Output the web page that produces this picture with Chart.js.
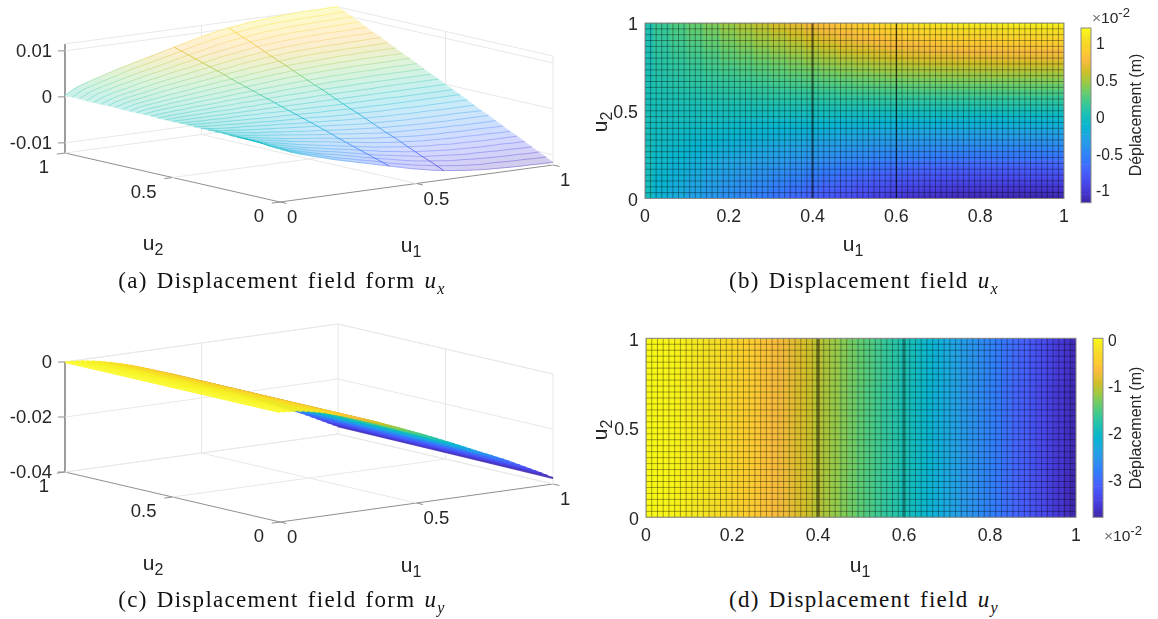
<!DOCTYPE html>
<html>
<head>
<meta charset="utf-8">
<script src="https://cdn.jsdelivr.net/npm/chart.js@4/dist/chart.umd.min.js"></script>
<style>
  html, body { margin: 0; background: #fff; }
  #page { position: relative; width: 1158px; height: 619px; overflow: hidden; }
  canvas { position: absolute; }
  .cap { position: absolute; font: 23px "Liberation Serif", serif; color: #111; letter-spacing: 1.3px; word-spacing: 2px; transform: translate(-50%, -50%); white-space: nowrap; }
  .cap sub { font-size: 16px; line-height: 0; }
  .lab { position: absolute; font: 21px "Liberation Sans", Arial, sans-serif; color: #262626; transform: translate(-50%, -50%); white-space: nowrap; }
  .lab sub { font-size: 16px; line-height: 0; }
  .rot { transform: translate(-50%, -50%) rotate(-90deg); }
  .cbt { position: absolute; font: 16px "Liberation Sans", Arial, sans-serif; color: #262626; white-space: nowrap; transform: translate(-50%, -50%) rotate(-90deg); }
  .exp { position: absolute; font: 15.5px "Liberation Sans", Arial, sans-serif; color: #262626; white-space: nowrap; }
  .exp sup { font-size: 13px; line-height: 0; }
  .exp span { color: #777; }
</style>
</head>
<body>
<div id="page">
  <canvas id="surfUx" width="580" height="260" style="left:0;top:0"></canvas>
  <canvas id="heatUx" width="480" height="240" style="left:600px;top:0"></canvas>
  <canvas id="barUx" width="70" height="240" style="left:1079px;top:0"></canvas>
  <canvas id="surfUy" width="580" height="260" style="left:0;top:320px"></canvas>
  <canvas id="heatUy" width="490" height="240" style="left:600px;top:320px"></canvas>
  <canvas id="barUy" width="50" height="240" style="left:1091px;top:320px"></canvas>

  <div class="lab" style="left:153px;top:243px">u<sub>2</sub></div>
  <div class="lab" style="left:411px;top:245px">u<sub>1</sub></div>
  <div class="lab" style="left:853px;top:244px">u<sub>1</sub></div>
  <div class="lab rot" style="left:600px;top:122px">u<sub>2</sub></div>
  <div class="lab" style="left:153px;top:563px">u<sub>2</sub></div>
  <div class="lab" style="left:411px;top:565px">u<sub>1</sub></div>
  <div class="lab" style="left:860px;top:565px">u<sub>1</sub></div>
  <div class="lab rot" style="left:600px;top:430px">u<sub>2</sub></div>

  <div class="cbt" style="left:1136px;top:115px">Déplacement (m)</div>
  <div class="cbt" style="left:1136px;top:428px">Déplacement (m)</div>
  <div class="exp" style="left:1092px;top:9px"><span>×</span>10<sup>-2</sup></div>
  <div class="exp" style="left:1104px;top:527px"><span>×</span>10<sup>-2</sup></div>

  <div class="cap" style="left:282px;top:281px">(a) Displacement field form <i>u<sub>x</sub></i></div>
  <div class="cap" style="left:864px;top:281px">(b) Displacement field <i>u<sub>x</sub></i></div>
  <div class="cap" style="left:282px;top:600px">(c) Displacement field form <i>u<sub>y</sub></i></div>
  <div class="cap" style="left:864px;top:600px">(d) Displacement field <i>u<sub>y</sub></i></div>
</div>
<script>
// ux grid (a)/(b): rows go u2 = 0 -> 1, values in 1e-4 m
const uxU1 = [0,.04,.08,.12,.16,.2,.24,.28,.32,.36,.4,.44,.48,.52,.56,.6,.64,.68,.72,.76,.8,.84,.88,.92,.96,1];
const uxU2 = [0,.033,.067,.1,.133,.167,.2,.233,.267,.3,.333,.367,.4,.433,.467,.5,.533,.567,.6,.633,.667,.7,.733,.767,.8,.833,.867,.9,.933,.967,1];
const uxValues = [
  [-3,-17,-25,-32,-39,-46,-52,-58,-64,-70,-76,-82,-88,-93,-98,-102,-105,-108,-110,-112,-113,-114,-115,-115,-116,-116],
  [-3,-16,-23,-30,-36,-43,-49,-54,-60,-65,-71,-77,-82,-87,-91,-95,-98,-101,-103,-105,-105,-106,-107,-107,-108,-108],
  [-3,-15,-22,-28,-34,-40,-45,-50,-55,-61,-66,-71,-76,-81,-85,-88,-91,-94,-95,-97,-98,-99,-100,-100,-101,-101],
  [-2,-14,-20,-26,-31,-37,-42,-46,-51,-56,-61,-66,-70,-74,-78,-82,-84,-86,-88,-90,-90,-91,-92,-92,-93,-93],
  [-2,-12,-18,-23,-29,-34,-38,-43,-47,-51,-56,-60,-65,-68,-72,-75,-77,-79,-81,-82,-83,-84,-84,-84,-85,-85],
  [-2,-11,-17,-21,-26,-31,-35,-39,-43,-47,-51,-55,-59,-62,-65,-68,-70,-72,-73,-75,-75,-76,-77,-77,-77,-77],
  [-2,-10,-15,-19,-23,-28,-31,-35,-38,-42,-46,-49,-53,-56,-59,-61,-63,-65,-66,-67,-68,-68,-69,-69,-70,-70],
  [-2,-9,-13,-17,-21,-25,-28,-31,-34,-37,-41,-44,-47,-50,-52,-54,-56,-58,-59,-60,-60,-61,-61,-61,-62,-62],
  [-1,-8,-12,-15,-18,-21,-24,-27,-30,-33,-35,-38,-41,-43,-46,-48,-49,-50,-51,-52,-53,-53,-54,-54,-54,-54],
  [-1,-7,-10,-13,-16,-18,-21,-23,-26,-28,-30,-33,-35,-37,-39,-41,-42,-43,-44,-45,-45,-46,-46,-46,-46,-46],
  [-1,-6,-8,-11,-13,-15,-17,-19,-21,-23,-25,-27,-29,-31,-33,-34,-35,-36,-37,-37,-38,-38,-38,-38,-39,-39],
  [-1,-5,-7,-9,-10,-12,-14,-15,-17,-19,-20,-22,-23,-25,-26,-27,-28,-29,-29,-30,-30,-30,-31,-31,-31,-31],
  [-1,-3,-5,-6,-8,-9,-10,-12,-13,-14,-15,-16,-18,-19,-20,-20,-21,-22,-22,-22,-23,-23,-23,-23,-23,-23],
  [0,-2,-3,-4,-5,-6,-7,-8,-9,-9,-10,-11,-12,-12,-13,-14,-14,-14,-15,-15,-15,-15,-15,-15,-15,-15],
  [0,-1,-2,-2,-3,-3,-3,-4,-4,-5,-5,-5,-6,-6,-7,-7,-7,-7,-7,-7,-8,-8,-8,-8,-8,-8],
  [0,0,0,0,0,0,0,0,0,0,0,0,0,0,0,0,0,0,0,0,0,0,0,0,0,0],
  [0,1,2,2,3,3,3,4,4,5,5,5,6,6,7,7,7,7,7,7,8,8,8,8,8,8],
  [0,2,3,4,5,6,7,8,9,9,10,11,12,12,13,14,14,14,15,15,15,15,15,15,15,15],
  [1,3,5,6,8,9,10,12,13,14,15,16,18,19,20,20,21,22,22,22,23,23,23,23,23,23],
  [1,5,7,9,10,12,14,15,17,19,20,22,23,25,26,27,28,29,29,30,30,30,31,31,31,31],
  [1,6,8,11,13,15,17,19,21,23,25,27,29,31,33,34,35,36,37,37,38,38,38,38,39,39],
  [1,7,10,13,16,18,21,23,26,28,30,33,35,37,39,41,42,43,44,45,45,46,46,46,46,46],
  [1,8,12,15,18,21,24,27,30,33,35,38,41,43,46,48,49,50,51,52,53,53,54,54,54,54],
  [2,9,13,17,21,25,28,31,34,37,41,44,47,50,52,54,56,58,59,60,60,61,61,61,62,62],
  [2,10,15,19,23,28,31,35,38,42,46,49,53,56,59,61,63,65,66,67,68,68,69,69,70,70],
  [2,11,17,21,26,31,35,39,43,47,51,55,59,62,65,68,70,72,73,75,75,76,77,77,77,77],
  [2,12,18,23,29,34,38,43,47,51,56,60,65,68,72,75,77,79,81,82,83,84,84,84,85,85],
  [2,14,20,26,31,37,42,46,51,56,61,66,70,74,78,82,84,86,88,90,90,91,92,92,93,93],
  [3,15,22,28,34,40,45,50,55,61,66,71,76,81,85,88,91,94,95,97,98,99,100,100,101,101],
  [3,16,23,30,36,43,49,54,60,65,71,77,82,87,91,95,98,101,103,105,105,106,107,107,108,108],
  [3,17,25,32,39,46,52,58,64,70,76,82,88,93,98,102,105,108,110,112,113,114,115,115,116,116]
];

// uy grid (c)/(d): rows go u2 = 0, .5, 1, values in 1e-2 m
const uyU1 = [0,.02,.04,.06,.08,.1,.12,.14,.16,.18,.2,.22,.24,.26,.28,.3,.32,.34,.36,.38,.4,.42,.44,.46,.48,.5,.52,.54,.56,.58,.6,.62,.64,.66,.68,.7,.72,.74,.76,.78,.8,.82,.84,.86,.88,.9,.92,.94,.96,.98,1];
const uyU2 = [0,.5,1];
const uyValues = [
  [0,-.01,-.03,-.05,-.08,-.11,-.15,-.19,-.24,-.29,-.35,-.41,-.47,-.54,-.61,-.68,-.75,-.82,-.89,-.97,-1.05,-1.13,-1.21,-1.29,-1.37,-1.46,-1.54,-1.62,-1.71,-1.79,-1.88,-1.97,-2.06,-2.15,-2.24,-2.33,-2.42,-2.51,-2.6,-2.69,-2.78,-2.87,-2.96,-3.06,-3.16,-3.26,-3.36,-3.46,-3.56,-3.67,-3.78],
  [0,-.01,-.03,-.05,-.08,-.11,-.15,-.19,-.24,-.29,-.35,-.41,-.47,-.54,-.61,-.68,-.75,-.82,-.89,-.96,-1.04,-1.12,-1.2,-1.28,-1.36,-1.45,-1.53,-1.61,-1.7,-1.78,-1.87,-1.96,-2.05,-2.14,-2.23,-2.32,-2.41,-2.5,-2.59,-2.68,-2.77,-2.86,-2.95,-3.05,-3.15,-3.25,-3.35,-3.45,-3.55,-3.65,-3.75],
  [0,-.01,-.03,-.05,-.08,-.11,-.15,-.19,-.24,-.29,-.34,-.4,-.46,-.53,-.6,-.67,-.74,-.81,-.88,-.95,-1.03,-1.11,-1.19,-1.27,-1.35,-1.43,-1.51,-1.59,-1.68,-1.76,-1.85,-1.94,-2.03,-2.12,-2.21,-2.3,-2.39,-2.48,-2.57,-2.66,-2.75,-2.84,-2.93,-3.02,-3.12,-3.22,-3.32,-3.42,-3.52,-3.62,-3.72]
];

// tick labels
const heatTicksU1 = [0,.2,.4,.6,.8,1];
const heatTicksU2 = [0,.5,1];
const uxBarTicks = [-1,-.5,0,.5,1];
const uyBarTicks = [-3,-2,-1,0];
const uxLimits = [-117,120];
const uyLimits = [-3.8,.02];
const surfTicksU = [0,.5,1];
const surfLabelsU = ["0","0.5","1"];
const surfTicksUx = [-.01,0,.01];
const surfLabelsUx = ["-0.01","0","0.01"];
const surfTicksUy = [-.04,-.02,0];
const surfLabelsUy = ["-0.04","-0.02","0"];

const meshCols = 75;
const meshRows = 30;

const parula = ["#3e26a8","#4537d5","#484df0","#4563fd","#327bfc","#2b91ef","#20a5e3","#08b5d0","#19bfb6","#37c897","#64cd6f","#9dc943","#d1bf27","#f8ba3d","#fcce2e","#f5e024","#f9fb15"]
  .map(h => [parseInt(h.slice(1,3),16), parseInt(h.slice(3,5),16), parseInt(h.slice(5,7),16)]);

function rgbAt(v, limits) {
  let t = (v - limits[0]) / (limits[1] - limits[0]);
  t = Math.min(1, Math.max(0, t)) * (parula.length - 1);
  const i = Math.min(parula.length - 2, Math.floor(t));
  const f = t - i;
  return [0,1,2].map(k => Math.round(parula[i][k] + (parula[i+1][k] - parula[i][k]) * f));
}

function colorAt(v, limits, alpha) {
  const c = rgbAt(v, limits);
  return `rgba(${c[0]},${c[1]},${c[2]},${alpha === undefined ? 1 : alpha})`;
}

const tickColor = "#262626";
const sansFont = '"Liberation Sans", Arial, sans-serif';

// canvas "middle" sits a bit high for these digits: an empty first line pushes the label down
const lowered = v => ["", String(v)];

const boxPlugin = {
  id: "plotBox",
  afterDraw(chart) {
    const a = chart.chartArea, ctx = chart.ctx;
    ctx.save();
    ctx.strokeStyle = "#8a8a8a";
    ctx.lineWidth = 1;
    ctx.strokeRect(a.left, a.top, a.right - a.left, a.bottom - a.top);
    ctx.restore();
  }
};

function edges(values, i) {
  const lo = i > 0 ? (values[i-1] + values[i]) / 2 : values[0] - (values[1] - values[0]) / 2;
  const hi = i < values.length - 1 ? (values[i] + values[i+1]) / 2 : values[i] + (values[i] - values[i-1]) / 2;
  return [lo, hi];
}

function meshLine(points, color, width) {
  return { type: "line", data: points, borderColor: color, borderWidth: width, pointRadius: 0, order: 0 };
}

function heatChart(id, u1, u2, values, limits, box, darkLines) {
  const datasets = [];
  for (let c = 0; c <= meshCols; c++) {
    datasets.push(meshLine([{x: c / meshCols, y: 0}, {x: c / meshCols, y: 1}], "rgba(0,0,0,.48)", .75));
  }
  for (let r = 0; r <= meshRows; r++) {
    datasets.push(meshLine([{x: 0, y: r / meshRows}, {x: 1, y: r / meshRows}], "rgba(0,0,0,.48)", .75));
  }
  darkLines.forEach(d => datasets.push(meshLine([{x: d.at, y: 0}, {x: d.at, y: 1}], d.color, d.width)));
  u2.forEach((v, r) => {
    datasets.push({
      type: "bar",
      data: u1.map((x, c) => ({x: x, y: edges(u2, r)})),
      backgroundColor: values[r].map(z => colorAt(z, limits)),
      barPercentage: 1,
      categoryPercentage: 1,
      grouped: false,
      borderWidth: 0,
      order: 1
    });
  });
  return new Chart(document.getElementById(id), {
    type: "bar",
    data: { datasets },
    plugins: [boxPlugin],
    options: {
      responsive: false,
      animation: false,
      events: [],
      layout: { padding: box.padding },
      plugins: { legend: { display: false }, tooltip: { enabled: false } },
      scales: {
        x: {
          type: "linear", min: 0, max: 1, offset: false,
          grid: { display: false, drawTicks: false }, border: { display: false },
          afterBuildTicks: s => { s.ticks = heatTicksU1.map(value => ({value})); },
          afterFit: s => { s.height = box.xHeight; },
          ticks: { color: tickColor, font: { size: 17.8, family: sansFont }, padding: 8, maxRotation: 0, autoSkip: false, callback: v => String(v) }
        },
        y: {
          type: "linear", min: 0, max: 1,
          grid: { display: false, drawTicks: false }, border: { display: false },
          afterBuildTicks: s => { s.ticks = heatTicksU2.map(value => ({value})); },
          afterFit: s => { s.width = box.yWidth; },
          ticks: { color: tickColor, font: { size: 17.8, family: sansFont, lineHeight: "5px" }, padding: 7, autoSkip: false, callback: lowered }
        }
      }
    }
  });
}

function colorBar(id, limits, scaleDiv, ticks, box) {
  const n = 64;
  const datasets = [];
  for (let i = 0; i < n; i++) {
    const lo = limits[0] + (limits[1] - limits[0]) * i / n;
    const hi = limits[0] + (limits[1] - limits[0]) * (i + 1) / n;
    datasets.push({ data: [[lo / scaleDiv, hi / scaleDiv]], backgroundColor: colorAt((lo + hi) / 2, limits), barPercentage: 1, categoryPercentage: 1, grouped: false, borderWidth: 0 });
  }
  return new Chart(document.getElementById(id), {
    type: "bar",
    data: { labels: [""], datasets },
    plugins: [boxPlugin],
    options: {
      responsive: false,
      animation: false,
      events: [],
      layout: { padding: { left: 2, top: box.top, bottom: box.bottom, right: 0 } },
      plugins: { legend: { display: false }, tooltip: { enabled: false } },
      scales: {
        x: { display: false },
        y: {
          position: "right",
          min: limits[0] / scaleDiv, max: limits[1] / scaleDiv,
          grid: { display: false, drawTicks: false }, border: { display: false },
          afterBuildTicks: s => { s.ticks = ticks.map(value => ({value})); },
          afterFit: s => { s.width = box.width; },
          ticks: { color: tickColor, font: { size: 15.6, family: sansFont, lineHeight: "4px" }, padding: 5, autoSkip: false, callback: lowered }
        }
      }
    }
  });
}

function surfaceChart(id, cam, u1, u2, zAt, limits, zTicks, zLabels, style) {
  const proj = (a, b, z) => ({
    x: cam.x0 + cam.ax * a + cam.bx * b,
    y: cam.y0 + cam.ay * a + cam.by * b - cam.zk * (z - cam.zmin),
    z: z
  });
  const plain = (pts, color, width) => ({ data: pts, showLine: true, borderColor: color, borderWidth: width, pointRadius: 0, clip: false, order: 9 });
  const datasets = [];

  const segColor = alpha => ctx => {
    const set = ctx.chart.data.datasets[ctx.datasetIndex].data;
    const d = set[ctx.p0DataIndex], e = set[ctx.p1DataIndex];
    return colorAt((d.z + e.z) / 2 * style.unit, limits, alpha);
  };
  const meshSet = (pts, alpha, width, order) => ({
    data: pts, showLine: true, borderWidth: width, pointRadius: 0, clip: false, order,
    borderColor: "#888", borderCapStyle: "butt",
    segment: { borderColor: segColor(alpha) }
  });
  u1.forEach(a => {
    const i = u1.indexOf(a);
    if (style.dark.includes(a)) {
      datasets.push(meshSet(u2.map((b, j) => proj(a, b, zAt(j, i))), style.darkAlpha, style.darkWidth, 1));
    }
  });
  u2.forEach((b, j) => {
    datasets.push(meshSet(u1.map((a, i) => proj(a, b, zAt(j, i))), style.rowAlpha, style.rowWidth, style.rowOrder));
  });
  if (style.crossWidth) {
    // lowest index is painted last, so the nearer low-u1 lines stay on top
    u1.forEach((a, i) => {
      datasets.push(meshSet(u2.map((b, j) => proj(a, b, zAt(j, i))), style.crossAlpha, style.crossWidth, 3));
    });
  }

  // walls and floor
  const zmin = cam.zmin, zmax = cam.zmax, wall = "#e8e8e8", axis = "#8f8f8f";
  datasets.push(plain([proj(0,1,zmax), proj(1,1,zmax), proj(1,0,zmax)], wall, 1));
  datasets.push(plain([proj(0,1,zmin), proj(1,1,zmin), proj(1,0,zmin)], wall, 1));
  datasets.push(plain([proj(1,1,zmin), proj(1,1,zmax)], wall, 1));
  datasets.push(plain([proj(1,0,zmin), proj(1,0,zmax)], wall, 1));
  datasets.push(plain([proj(.5,1,zmin), proj(.5,1,zmax)], wall, 1));
  datasets.push(plain([proj(1,.5,zmin), proj(1,.5,zmax)], wall, 1));
  datasets.push(plain([proj(.5,0,zmin), proj(.5,1,zmin)], wall, 1));
  datasets.push(plain([proj(0,.5,zmin), proj(1,.5,zmin)], wall, 1));
  zTicks.forEach(z => datasets.push(plain([proj(0,1,z), proj(1,1,z), proj(1,0,z)], wall, 1)));

  // axes
  datasets.push(plain([proj(0,1,zmax), proj(0,1,zmin), proj(0,0,zmin), proj(1,0,zmin)], axis, 1));
  zTicks.forEach(z => {
    const p = proj(0,1,z);
    datasets.push(plain([p, {x: p.x - 7, y: p.y}], axis, 1));
  });
  surfTicksU.forEach(t => {
    datasets.push(plain([proj(t,0,zmin), proj(t,-.03,zmin)], axis, 1));
    datasets.push(plain([proj(0,t,zmin), proj(-.03,t,zmin)], axis, 1));
  });

  // pale opaque faces, painted far to near, just after the walls and before the mesh lines
  const faces = {
    id: "surfaceFaces",
    beforeDatasetDraw(chart, args) {
      if (!style.faces || args.index !== style.faceIndex) return;
      const ctx = chart.ctx, sx = chart.scales.x, sy = chart.scales.y;
      const px = p => [sx.getPixelForValue(p.x), sy.getPixelForValue(p.y)];
      ctx.save();
      ctx.lineWidth = .6;
      for (let i = u1.length - 2; i >= 0; i--) {
        for (let j = u2.length - 2; j >= 0; j--) {
          const corners = [[i,j],[i+1,j],[i+1,j+1],[i,j+1]].map(c => px(proj(u1[c[0]], u2[c[1]], zAt(c[1], c[0]))));
          let area = 0;
          corners.forEach((c, k) => {
            const n = corners[(k + 1) % 4];
            area += c[0] * n[1] - n[0] * c[1];
          });
          area = Math.abs(area) / 2;
          const mean = (zAt(j,i) + zAt(j,i+1) + zAt(j+1,i) + zAt(j+1,i+1)) / 4 * style.unit;
          const a = Math.min(.85, Math.max(.24, style.faces * Math.sqrt(style.faceArea / Math.max(area, 1))));
          const c = rgbAt(mean, limits).map(k => Math.round(255 - (255 - k) * a));
          ctx.fillStyle = ctx.strokeStyle = `rgb(${c[0]},${c[1]},${c[2]})`;
          ctx.beginPath();
          corners.forEach((q, k) => k ? ctx.lineTo(q[0], q[1]) : ctx.moveTo(q[0], q[1]));
          ctx.closePath();
          ctx.fill();
          ctx.stroke();
        }
      }
      ctx.restore();
    }
  };

  const tickText = {
    id: "surfaceTicks",
    afterDraw(chart) {
      const ctx = chart.ctx, sx = chart.scales.x, sy = chart.scales.y;
      ctx.save();
      ctx.fillStyle = tickColor;
      ctx.font = `18.5px ${sansFont}`;
      ctx.textBaseline = "middle";
      const put = (p, dx, dy, text, align) => {
        ctx.textAlign = align;
        ctx.fillText(text, sx.getPixelForValue(p.x) + dx, sy.getPixelForValue(p.y) + dy);
      };
      zTicks.forEach((z, i) => put(proj(0,1,z), -13, 1, zLabels[i], "right"));
      surfTicksU.forEach((t, i) => {
        put(proj(0,t,zmin), -16, 15, surfLabelsU[i], "right");
        put(proj(t,0,zmin), 7, 16, surfLabelsU[i], "left");
      });
      ctx.restore();
    }
  };

  // rows have a low order and are drawn last index first: the u2 = 1 row follows the walls
  style.faceIndex = style.dark.length + u2.length - 1;

  return new Chart(document.getElementById(id), {
    type: "scatter",
    data: { datasets },
    plugins: [faces, tickText],
    options: {
      responsive: false,
      animation: false,
      events: [],
      layout: { padding: 0 },
      plugins: { legend: { display: false }, tooltip: { enabled: false } },
      scales: {
        x: { type: "linear", display: false, min: 0, max: 580 },
        y: { type: "linear", display: false, min: 0, max: 260, reverse: true }
      }
    }
  });
}

surfaceChart("surfUx",
  { x0: 280, y0: 202, ax: 273, ay: -37, bx: -215, by: -49, zk: 4600, zmin: -.0122, zmax: .0115 },
  uxU1, uxU2, (j, i) => uxValues[j][i] * 1e-4, uxLimits, surfTicksUx, surfLabelsUx,
  { unit: 1e4, rowAlpha: .45, rowWidth: .8, rowOrder: 2, crossWidth: 0, darkAlpha: .75, darkWidth: 1, dark: [.4, .6], faces: .32, faceArea: 28 });

surfaceChart("surfUy",
  { x0: 280, y0: 202, ax: 273, ay: -38, bx: -215, by: -50, zk: 2750, zmin: -.04, zmax: 0 },
  uyU1, uyU2, (j, i) => uyValues[j][i] * 1e-2, uyLimits, surfTicksUy, surfLabelsUy,
  { unit: 1e2, rowAlpha: .9, rowWidth: .8, rowOrder: 4, crossAlpha: .85, crossWidth: 2, darkAlpha: .9, darkWidth: .8, dark: [], faces: 0 });

heatChart("heatUx", uxU1, uxU2, uxValues, uxLimits,
  { padding: { left: 0, right: 16, top: 23, bottom: 0 }, xHeight: 41.5, yWidth: 45 },
  [{ at: .4, color: "rgba(0,0,0,.35)", width: 3 }, { at: .6, color: "rgba(0,0,0,.6)", width: 1.4 }]);

heatChart("heatUy", uyU1, uyU2, uyValues, uyLimits,
  { padding: { left: 0, right: 14, top: 18.3, bottom: 0 }, xHeight: 42.7, yWidth: 46 },
  [{ at: .4, color: "rgba(0,0,0,.35)", width: 4 }, { at: .6, color: "rgba(0,0,0,.22)", width: 4 }]);

colorBar("barUx", uxLimits, 100, uxBarTicks, { top: 28, bottom: 37.3, width: 58 });
colorBar("barUy", uyLimits, 1, uyBarTicks, { top: 18.3, bottom: 42.7, width: 38 });
</script>
</body>
</html>
